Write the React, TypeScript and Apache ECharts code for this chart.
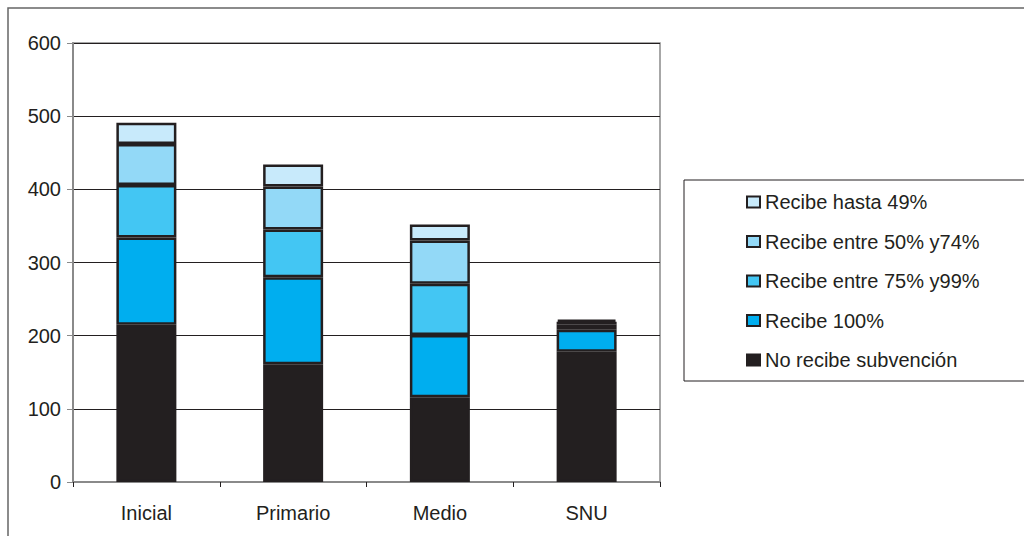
import React, { useEffect, useRef } from "react";
import * as echarts from "echarts";

const categories = ["Inicial", "Primario", "Medio", "SNU"];
const noRecibe = [215, 161, 116, 178];
const recibe100 = [119, 119, 85, 30];
const recibe75a99 = [72, 65, 70, 7];
const recibe50a74 = [56, 59, 59, 4];
const recibeHasta49 = [29, 30, 22, 3];

const seriesNames = [
  "No recibe subvención",
  "Recibe 100%",
  "Recibe entre 75% y99%",
  "Recibe entre 50% y74%",
  "Recibe hasta 49%",
];
const seriesColors = ["#231f20", "#00aeef", "#43c6f3", "#93d9f7", "#c8eafb"];
const seriesValues = [noRecibe, recibe100, recibe75a99, recibe50a74, recibeHasta49];

const FONT = "'Liberation Sans', Arial, Helvetica, sans-serif";

export default function App() {
  const ref = useRef<HTMLDivElement>(null);
  useEffect(() => {
    if (!ref.current) return;
    const chart = echarts.init(ref.current, null, { renderer: "svg" });
    chart.setOption({
      animation: false,
      backgroundColor: "#ffffff",
      textStyle: { fontFamily: FONT },
      grid: {
        left: 73,
        top: 43,
        width: 587,
        height: 439,
        show: true,
        borderColor: "#8a8a8a",
        borderWidth: 1.5,
        backgroundColor: "transparent",
      },
      legend: {
        orient: "vertical",
        left: 741,
        top: 187,
        data: [...seriesNames].reverse(),
        itemWidth: 13,
        itemHeight: 11,
        itemGap: 19.5,
        icon: "rect",
        itemStyle: { borderColor: "#231f20", borderWidth: 2 },
        textStyle: { fontFamily: FONT, fontSize: 20, color: "#231f20", lineHeight: 20 },
      },
      xAxis: {
        type: "category",
        data: categories,
        axisLine: { lineStyle: { color: "#8a8a8a", width: 2 } },
        axisTick: { show: true, length: 5, lineStyle: { color: "#231f20" } },
        axisLabel: { fontFamily: FONT, fontSize: 20, color: "#231f20", margin: 21 },
      },
      yAxis: {
        type: "value",
        min: 0,
        max: 600,
        interval: 100,
        axisLine: { show: true, lineStyle: { color: "#8a8a8a", width: 2 } },
        axisTick: { show: true, length: 6, lineStyle: { color: "#8a8a8a" } },
        axisLabel: { fontFamily: FONT, fontSize: 20, color: "#231f20", margin: 12 },
        splitLine: { show: true, lineStyle: { color: "#231f20", width: 1 } },
      },
      series: seriesNames.map((name, i) => ({
        name,
        type: "bar",
        stack: "total",
        barWidth: 60,
        data: seriesValues[i],
        itemStyle: {
          color: seriesColors[i],
          borderColor: "#231f20",
          borderWidth: 2.5,
        },
      })),
      graphic: [
        {
          type: "rect",
          shape: { x: 8, y: 8, width: 1040, height: 560 },
          style: { fill: "none", stroke: "#666666", lineWidth: 1.5 },
          silent: true,
        },
        {
          type: "rect",
          shape: { x: 684, y: 180, width: 360, height: 201 },
          style: { fill: "none", stroke: "#231f20", lineWidth: 1 },
          silent: true,
        },
      ],
    });
    return () => chart.dispose();
  }, []);
  return (
    <div
      ref={ref}
      style={{ position: "fixed", left: 0, top: 0, width: 1024, height: 536 }}
    />
  );
}
